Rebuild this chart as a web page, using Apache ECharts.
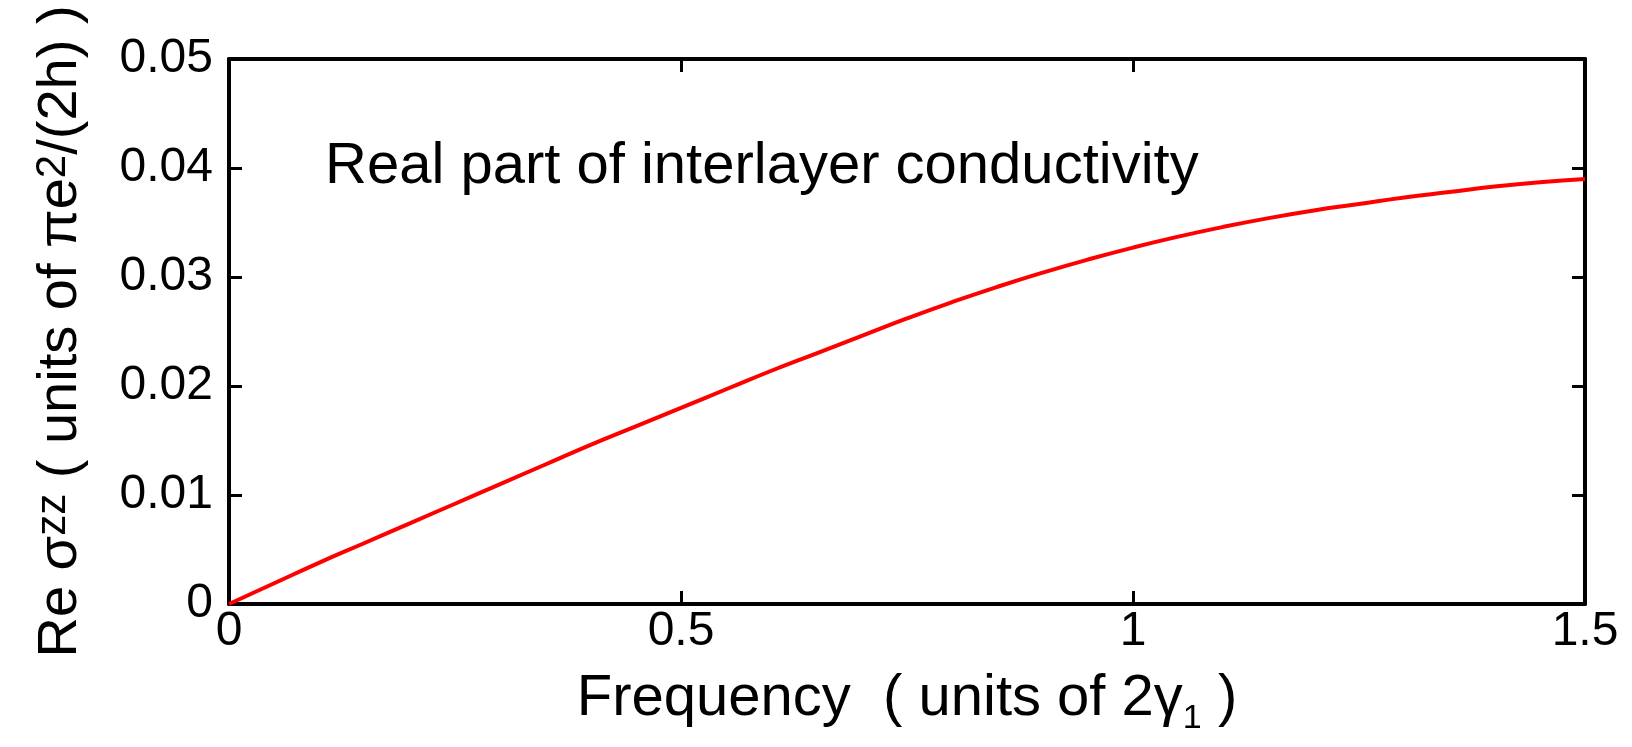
<!DOCTYPE html>
<html>
<head>
<meta charset="utf-8">
<script src="https://cdn.jsdelivr.net/npm/echarts@6/dist/echarts.min.js"></script>
<style>
  html, body { margin: 0; padding: 0; background: #fff; }
  #chart { width: 1632px; height: 747px; }
</style>
</head>
<body>
<div id="chart"></div>
<script>
// frequency in units of 2*gamma1
const freq = [0, 0.05, 0.1, 0.15, 0.2, 0.25, 0.3, 0.35, 0.4, 0.45, 0.5,
  0.55, 0.6, 0.65, 0.7, 0.75, 0.8, 0.85, 0.9, 0.95, 1.0,
  1.05, 1.1, 1.15, 1.2, 1.25, 1.3, 1.35, 1.4, 1.45, 1.5]
// Re sigma_zz
const reSigma = [0, 0.0019, 0.0038, 0.0056, 0.0074, 0.0092, 0.0110, 0.0128, 0.0146, 0.0163, 0.0180,
  0.0197, 0.0214, 0.0230, 0.0246, 0.0262, 0.0277, 0.0291, 0.0304, 0.0316, 0.0327,
  0.0337, 0.0346, 0.0354, 0.0361, 0.0367, 0.0373, 0.0378, 0.0383, 0.0387, 0.0390]

const xTicks = { min: 0, max: 1.5, interval: 0.5 }
const yTicks = { min: 0, max: 0.05, interval: 0.01 }

const chartDom = document.getElementById('chart')
const myChart = echarts.init(chartDom)
const font = 'Liberation Sans, Arial, sans-serif'
const black = '#000'

const axisCommon = {
  type: 'value',
  splitLine: { show: false },
  axisLine: { show: true, onZero: false, lineStyle: { color: black, width: 4 } },
  axisTick: { show: true, inside: true, length: 13, lineStyle: { color: black, width: 3 } }
}

const option = {
  animation: false,
  backgroundColor: '#fff',
  title: {
    text: 'Real part of interlayer conductivity',
    left: 320,
    top: 133,
    textStyle: { fontFamily: font, fontSize: 58, fontWeight: 'normal', color: black }
  },
  grid: { left: 229, right: 47, top: 59, bottom: 143, outerBoundsMode: 'none', containLabel: false },
  xAxis: [
    Object.assign({}, axisCommon, {
      min: xTicks.min, max: xTicks.max, interval: xTicks.interval,
      position: 'bottom',
      axisLabel: {
        margin: 4, color: black, fontFamily: font, fontSize: 48,
        formatter: v => String(v)
      },
      name: '{a|Frequency  ( units of 2γ}{sub|1}{a| )}',
      nameLocation: 'middle',
      nameGap: 66,
      nameTextStyle: {
        rich: {
          a: { fontFamily: font, fontSize: 58, lineHeight: 58, color: black, verticalAlign: 'top' },
          sub: { fontFamily: font, fontSize: 34, lineHeight: 34, color: black, padding: [32, 0, 0, 0], verticalAlign: 'top' }
        }
      }
    }),
    Object.assign({}, axisCommon, {
      min: xTicks.min, max: xTicks.max, interval: xTicks.interval,
      position: 'top',
      axisLabel: { show: false }
    })
  ],
  yAxis: [
    Object.assign({}, axisCommon, {
      min: yTicks.min, max: yTicks.max, interval: yTicks.interval,
      position: 'left',
      axisLabel: {
        margin: 16, color: black, fontFamily: font, fontSize: 48,
        formatter: v => (v === 0 ? '0' : v.toFixed(2))
      },
      name: '{a|Re σ}{sup|zz}{a| ( units of πe}{sup|2}{a|/(2h) )}',
      nameLocation: 'middle',
      nameGap: 137,
      nameTextStyle: {
        rich: {
          a: { fontFamily: font, fontSize: 56, lineHeight: 56, color: black, verticalAlign: 'bottom' },
          sup: { fontFamily: font, fontSize: 42, lineHeight: 42, color: black, padding: [0, 0, 34, 0], verticalAlign: 'top' }
        }
      }
    }),
    Object.assign({}, axisCommon, {
      min: yTicks.min, max: yTicks.max, interval: yTicks.interval,
      position: 'right',
      axisLabel: { show: false }
    })
  ],
  series: [
    {
      type: 'line',
      data: freq.map((f, i) => [f, reSigma[i]]),
      smooth: true,
      showSymbol: false,
      lineStyle: { color: '#ff0000', width: 4 }
    }
  ]
}
myChart.setOption(option)
</script>
</body>
</html>
